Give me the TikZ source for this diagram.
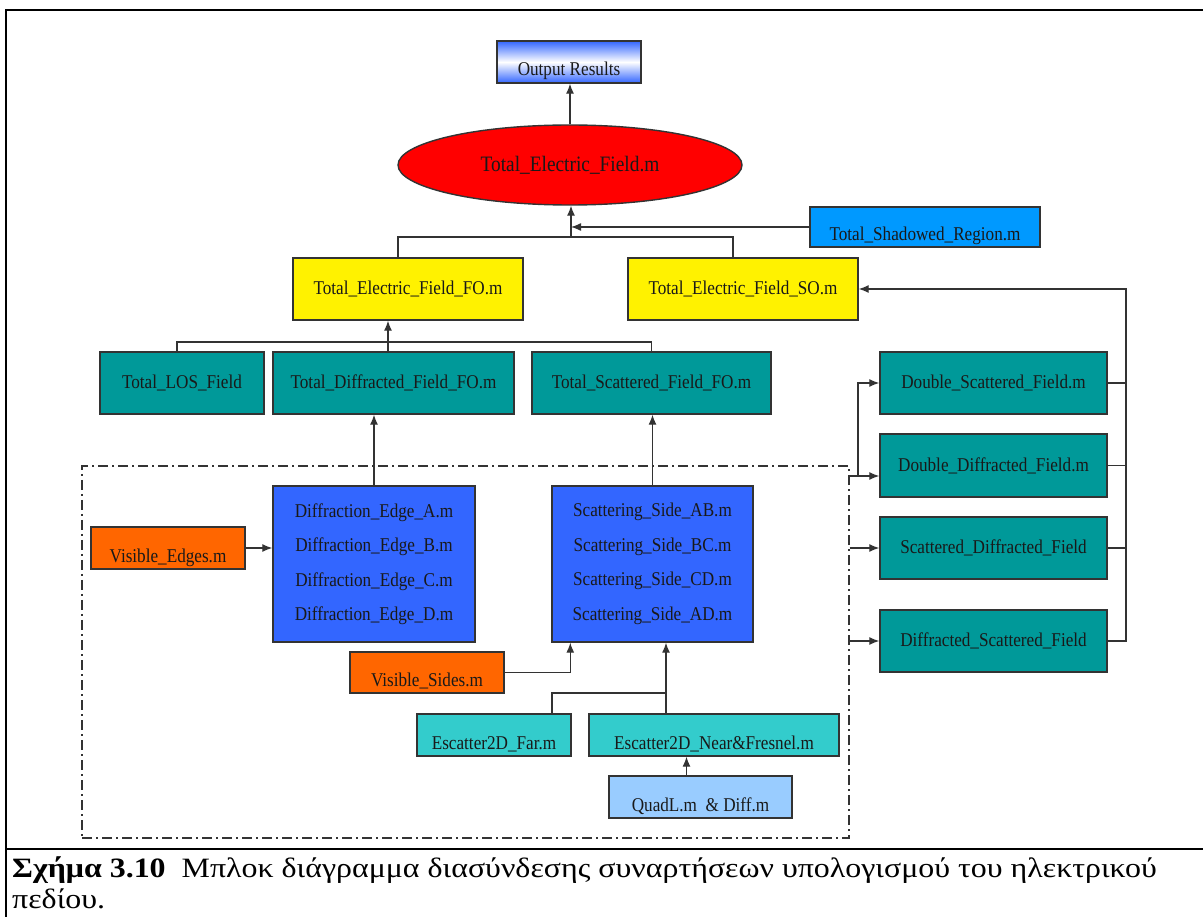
\documentclass[tikz,border=0pt]{standalone}
\usepackage{fontspec}
\setmainfont{Liberation Serif}
\newfontfamily\boxfont{Liberation Serif}[FakeStretch=0.88]
\newfontfamily\capfont{Liberation Serif}[FakeStretch=1.14]
\usetikzlibrary{arrows.meta,shapes.geometric}
\definecolor{tealbox}{HTML}{009999}
\definecolor{bluebox}{HTML}{3366FF}
\definecolor{orangebox}{HTML}{FF6600}
\definecolor{cyanbox}{HTML}{33CCCC}
\definecolor{skybox}{HTML}{99CCFF}
\definecolor{shadbox}{HTML}{0099FF}
\definecolor{linegray}{HTML}{333333}
\begin{document}
\begin{tikzpicture}[>={Latex[length=10pt,width=8pt]},x=1pt,y=-1pt,
	box/.style={draw=linegray,line width=1.4pt,fill=#1,inner sep=0pt,text=black!90,
		font=\boxfont\fontsize{19.5}{22}\selectfont},
	lowtext/.style={text height=31pt,text depth=3pt},
	link/.style={draw=linegray,line width=1.3pt}]
	\useasboundingbox (0,0) rectangle (1203,917);
	% frame of the figure
	\draw[line width=2.5pt] (6,917) -- (6,10) -- (1203,10);
	\draw[line width=2.5pt] (6,849) -- (1203,849);
	% group of the first order functions
	\node[draw=linegray,line width=1.2pt,dash pattern=on 10pt off 4pt on 2pt off 4pt,
		minimum width=767pt,minimum height=372pt,inner sep=0pt] (grp) at (465.5,652) {};
	% top
	\node[box=white,lowtext,minimum width=144pt,minimum height=42pt,
		top color=bluebox,bottom color=bluebox,middle color=white] (out) at (569,62) {Output Results};
	\node[box=red,ellipse,minimum width=344pt,minimum height=80pt,
		font=\boxfont\fontsize{22}{24}\selectfont] (tef) at (570,165) {Total\_Electric\_Field.m};
	\node[box=shadbox,lowtext,minimum width=230pt,minimum height=40pt] (shad) at (925,227) {Total\_Shadowed\_Region.m};
	\node[box=yellow,minimum width=230pt,minimum height=62pt] (fo) at (408,289) {Total\_Electric\_Field\_FO.m};
	\node[box=yellow,minimum width=230pt,minimum height=62pt] (so) at (743,289) {Total\_Electric\_Field\_SO.m};
	% first order fields
	\node[box=tealbox,minimum width=164pt,minimum height=62pt] (los) at (182,383) {Total\_LOS\_Field};
	\node[box=tealbox,minimum width=241pt,minimum height=62pt] (tdf) at (393.5,383) {Total\_Diffracted\_Field\_FO.m};
	\node[box=tealbox,minimum width=239pt,minimum height=62pt] (tsf) at (651.5,383) {Total\_Scattered\_Field\_FO.m};
	% second order fields
	\node[box=tealbox,minimum width=227pt,minimum height=62pt] (dsf) at (993.5,383) {Double\_Scattered\_Field.m};
	\node[box=tealbox,minimum width=227pt,minimum height=63pt] (ddf) at (993.5,465.5) {Double\_Diffracted\_Field.m};
	\node[box=tealbox,minimum width=227pt,minimum height=62pt] (sdf) at (993.5,548) {Scattered\_Diffracted\_Field};
	\node[box=tealbox,minimum width=227pt,minimum height=62pt] (dscf) at (993.5,641) {Diffracted\_Scattered\_Field};
	% edges and sides
	\node[box=bluebox,minimum width=202pt,minimum height=156pt,align=center,
		font=\boxfont\fontsize{19.5}{34.5}\selectfont] (diff) at (374,564)
		{Diffraction\_Edge\_A.m\\Diffraction\_Edge\_B.m\\Diffraction\_Edge\_C.m\\Diffraction\_Edge\_D.m};
	\node[box=bluebox,minimum width=201pt,minimum height=156pt,align=center,
		font=\boxfont\fontsize{19.5}{34.5}\selectfont] (scat) at (652.5,564)
		{Scattering\_Side\_AB.m\\Scattering\_Side\_BC.m\\Scattering\_Side\_CD.m\\Scattering\_Side\_AD.m};
	\node[box=orangebox,lowtext,minimum width=154pt,minimum height=42pt] (vedg) at (168,548) {Visible\_Edges.m};
	\node[box=orangebox,lowtext,minimum width=154pt,minimum height=41pt] (vsid) at (427,672.5) {Visible\_Sides.m};
	\node[box=cyanbox,lowtext,minimum width=154pt,minimum height=42pt] (far) at (494,735) {Escatter2D\_Far.m};
	\node[box=cyanbox,lowtext,minimum width=250pt,minimum height=42pt] (near) at (714,735) {Escatter2D\_Near\&Fresnel.m};
	\node[box=skybox,lowtext,minimum width=183pt,minimum height=42pt] (quad) at (700.5,797) {QuadL.m \ \& Diff.m};
	% junctions
	\coordinate (j1) at (571,237);
	\coordinate (j2) at (388,342);
	\coordinate (j3) at (666,693);
	\coordinate (j4) at (858,476);
	\coordinate (j5) at (1126,289);
	% connectors
	\draw[link,->] (tef.north) -- (tef.north |- out.south);
	\draw[link] ([xshift=-10pt]fo.north) |- (j1) -| ([xshift=-10pt]so.north);
	\draw[link,->] (j1) -- (j1 |- tef.south);
	\draw[link,->] (shad.west) -- (shad.west -| j1);
	\draw[link] ([xshift=-5pt]los.north) |- (j2) -| (tsf.north);
	\draw[link] (j2 |- tdf.north) -- (j2);
	\draw[link,->] (j2) -- (j2 |- fo.south);
	\draw[link,->] (diff.north) -- (diff.north |- tdf.south);
	\draw[link,->] (scat.north) -- (scat.north |- tsf.south);
	\draw[link,->] (vedg.east) -- (vedg.east -| diff.west);
	\draw[link,->] (vsid.east) -| ([xshift=19pt]scat.south west);
	\draw[link] ([xshift=58pt]far.north) |- (j3);
	\draw[link,->] (j3 |- near.north) -- (j3 |- scat.south);
	\draw[link,->] ([xshift=-14pt]quad.north) -- ([xshift=-14pt]quad.north |- near.south);
	\draw[link,->] (grp.east |- j4) -- (j4 -| ddf.west);
	\draw[link,->] (j4) |- (dsf.west);
	\draw[link,->] (grp.east |- sdf.west) -- (sdf.west);
	\draw[link,->] (grp.east |- dscf.west) -- (dscf.west);
	\draw[link] (dsf.east) -- (dsf.east -| j5);
	\draw[link] (ddf.east) -- (ddf.east -| j5);
	\draw[link] (sdf.east) -- (sdf.east -| j5);
	\draw[link,->] (dscf.east) -| (j5) -- (so.east);
	% caption
	\node[anchor=base west,inner sep=0pt,font=\capfont\fontsize{28}{32}\selectfont] (cap1) at (12,877)
		{\textbf{Σχήμα 3.10}\ \ Μπλοκ διάγραμμα διασύνδεσης συναρτήσεων υπολογισμού του ηλεκτρικού};
	\node[anchor=base west,inner sep=0pt,font=\capfont\fontsize{28}{32}\selectfont] (cap2) at (12,908) {πεδίου.};
\end{tikzpicture}
\end{document}
